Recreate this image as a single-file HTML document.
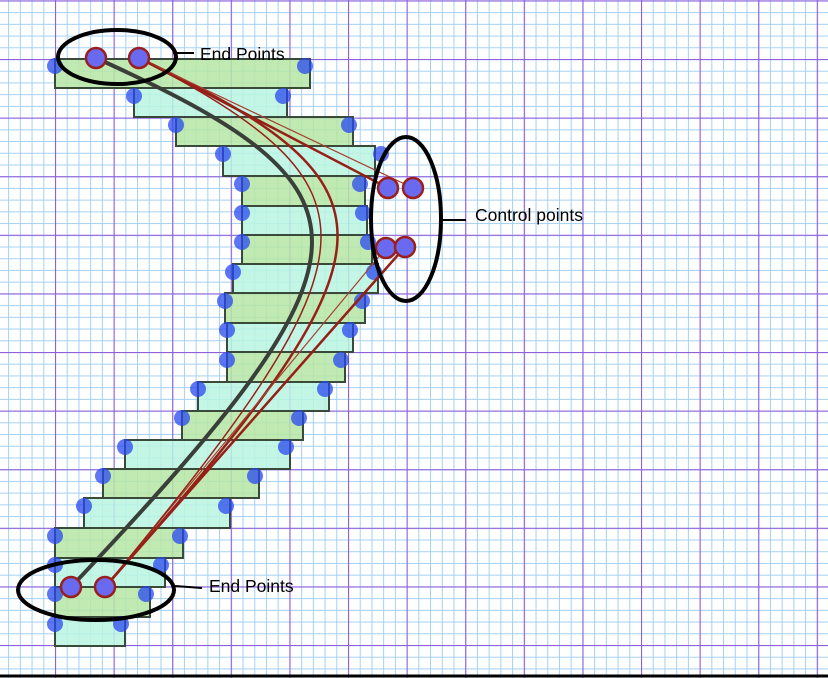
<!DOCTYPE html>
<html><head><meta charset="utf-8"><style>html,body{margin:0;padding:0;background:#fff}svg{display:block}</style></head>
<body>
<svg width="828" height="678" viewBox="0 0 828 678" xmlns="http://www.w3.org/2000/svg">
<defs>
<pattern id="minor" x="-3.6" y="0.4" width="11.72" height="11.72" patternUnits="userSpaceOnUse">
<path d="M0 0V11.72M0 0H11.72" stroke="#a4d0f2" stroke-width="2" fill="none"/>
</pattern>
<pattern id="major" x="-3.6" y="0.4" width="58.6" height="58.6" patternUnits="userSpaceOnUse">
<path d="M0 0V58.6M0 0H58.6" stroke="#9060dc" stroke-width="2.2" fill="none"/>
</pattern>
</defs>
<rect width="828" height="678" fill="#fff"/>
<rect width="828" height="678" fill="url(#minor)"/>
<rect width="828" height="678" fill="url(#major)"/>
<g stroke="#3a4a3a" stroke-width="2" fill-opacity="0.85">
<rect x="55" y="59" width="255" height="29" fill="#b6e6a4"/>
<rect x="134" y="88" width="153" height="29" fill="#baf4e0"/>
<rect x="176" y="117" width="177" height="29" fill="#b6e6a4"/>
<rect x="223" y="146" width="152" height="30" fill="#baf4e0"/>
<rect x="242" y="176" width="123" height="30" fill="#b6e6a4"/>
<rect x="242" y="206" width="125" height="29" fill="#baf4e0"/>
<rect x="242" y="235" width="130" height="29" fill="#b6e6a4"/>
<rect x="233" y="264" width="145" height="29" fill="#baf4e0"/>
<rect x="225" y="293" width="140" height="30" fill="#b6e6a4"/>
<rect x="227" y="323" width="126" height="29" fill="#baf4e0"/>
<rect x="227" y="352" width="118" height="30" fill="#b6e6a4"/>
<rect x="198" y="382" width="131" height="29" fill="#baf4e0"/>
<rect x="182" y="411" width="121" height="29" fill="#b6e6a4"/>
<rect x="125" y="440" width="165" height="29" fill="#baf4e0"/>
<rect x="103" y="469" width="156" height="29" fill="#b6e6a4"/>
<rect x="84" y="498" width="146" height="30" fill="#baf4e0"/>
<rect x="55" y="528" width="128" height="30" fill="#b6e6a4"/>
<rect x="55" y="558" width="110" height="29" fill="#baf4e0"/>
<rect x="55" y="587" width="95" height="30" fill="#b6e6a4"/>
<rect x="55" y="617" width="70" height="29" fill="#baf4e0"/>
</g>
<g fill="#2848ee" fill-opacity="0.75">
<circle cx="55" cy="66" r="8"/><circle cx="305" cy="66" r="8"/>
<circle cx="134" cy="96" r="8"/><circle cx="283" cy="96" r="8"/>
<circle cx="176" cy="125" r="8"/><circle cx="349" cy="125" r="8"/>
<circle cx="223" cy="154" r="8"/><circle cx="381" cy="154" r="8"/>
<circle cx="242" cy="184" r="8"/><circle cx="360" cy="184" r="8"/>
<circle cx="242" cy="213" r="8"/><circle cx="363" cy="213" r="8"/>
<circle cx="242" cy="242" r="8"/><circle cx="368" cy="242" r="8"/>
<circle cx="233" cy="272" r="8"/><circle cx="374" cy="272" r="8"/>
<circle cx="225" cy="301" r="8"/><circle cx="362" cy="301" r="8"/>
<circle cx="227" cy="330" r="8"/><circle cx="350" cy="330" r="8"/>
<circle cx="227" cy="360" r="8"/><circle cx="341" cy="360" r="8"/>
<circle cx="198" cy="389" r="8"/><circle cx="325" cy="389" r="8"/>
<circle cx="182" cy="418" r="8"/><circle cx="299" cy="418" r="8"/>
<circle cx="125" cy="447" r="8"/><circle cx="286" cy="447" r="8"/>
<circle cx="103" cy="476" r="8"/><circle cx="255" cy="476" r="8"/>
<circle cx="84" cy="506" r="8"/><circle cx="226" cy="506" r="8"/>
<circle cx="55" cy="536" r="8"/><circle cx="180" cy="536" r="8"/>
<circle cx="55" cy="565" r="8"/><circle cx="161" cy="565" r="8"/>
<circle cx="55" cy="594" r="8"/><circle cx="146" cy="594" r="8"/>
<circle cx="55" cy="624" r="8"/><circle cx="121" cy="624" r="8"/>
</g>
<g fill="none" stroke-linecap="round">
<path d="M96 58 C388 190 388 252 71 587" stroke="#3a3f3a" stroke-width="4"/>
<path d="M139 58 C413 188 405 247 105 587" stroke="#962018" stroke-width="2.5"/>
<path d="M139 58 L388 188" stroke="#962018" stroke-width="2.5"/>
<path d="M139 58 L413 188" stroke="#a84030" stroke-width="1.2"/>
<path d="M405 247 L105 587" stroke="#962018" stroke-width="2.5"/>
<path d="M386 248 L105 587" stroke="#a84030" stroke-width="1.2"/>
<path d="M139 58 C388 188 386 248 105 587" stroke="#962018" stroke-width="1.5"/>
</g>
<g fill="#6a6af0" stroke="#9a2020" stroke-width="2.5">
<circle cx="96" cy="58" r="10"/><circle cx="139" cy="58" r="10"/>
<circle cx="71" cy="587" r="10"/><circle cx="105" cy="587" r="10"/>
<circle cx="388" cy="188" r="10"/><circle cx="413" cy="188" r="10"/>
<circle cx="386" cy="248" r="10"/><circle cx="405" cy="247" r="10"/>
</g>
<g fill="none" stroke="#000" stroke-width="4">
<ellipse cx="117" cy="57" rx="59" ry="27"/>
<ellipse cx="96" cy="590" rx="78" ry="30"/>
<ellipse cx="406" cy="219" rx="35" ry="82"/>
</g>
<g stroke="#000" stroke-width="2">
<line x1="173" y1="53" x2="194" y2="53"/>
<line x1="175" y1="586" x2="202" y2="588"/>
<line x1="443" y1="220" x2="466" y2="220"/>
</g>
<g font-family="'Liberation Sans', 'DejaVu Sans', sans-serif" font-size="17.5" fill="#000">
<text x="200" y="60">End Points</text>
<text x="209" y="592">End Points</text>
<text x="475" y="221">Control points</text>
</g>
<line x1="0" y1="676" x2="828" y2="676" stroke="#000" stroke-width="3"/>
</svg>
</body></html>
